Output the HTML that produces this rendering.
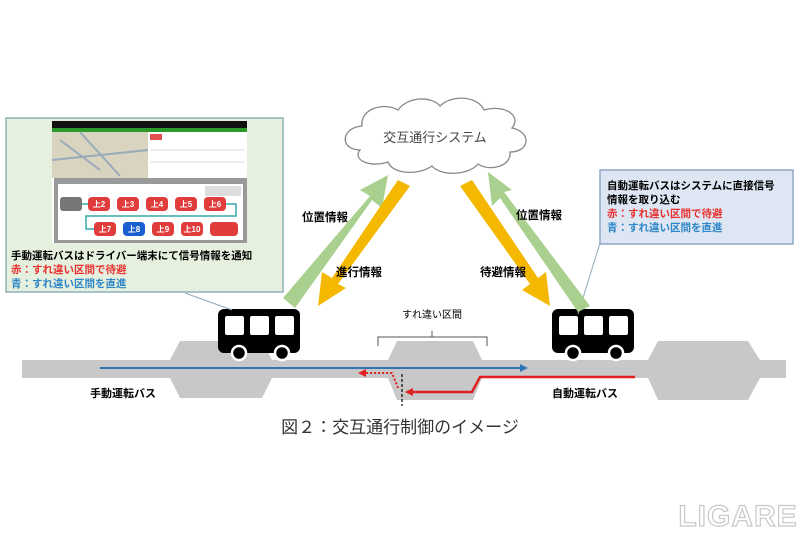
<!DOCTYPE html>
<html><head><meta charset="utf-8"><style>
html,body{margin:0;padding:0;background:#fff;}
svg{display:block;font-family:"Liberation Sans","Noto Sans CJK JP",sans-serif;}
</style></head><body>
<svg width="800" height="533" viewBox="0 0 800 533">
<defs>
<marker id="bh" markerWidth="8" markerHeight="8" refX="6" refY="4" orient="auto" markerUnits="userSpaceOnUse"><path d="M0,0 L8,4 L0,8 Z" fill="#2e75b6"/></marker>
<marker id="rh" markerWidth="8" markerHeight="8" refX="6" refY="4" orient="auto" markerUnits="userSpaceOnUse"><path d="M0,0 L8,4 L0,8 Z" fill="#e02020"/></marker>
</defs>
<!-- road -->
<rect x="22" y="360" width="764" height="18" fill="#c8c8c8"/>
<polygon points="180,341 262,341 272,360 272,378 262,398 180,398 170,378 170,360" fill="#c8c8c8"/>
<polygon points="397,341 473,341 482,360 482,378 473,400 397,400 388,378 388,360" fill="#c8c8c8"/>
<polygon points="658,341 748,341 760,360 760,378 748,400 658,400 648,378 648,360" fill="#c8c8c8"/>
<!-- blue line -->
<line x1="100" y1="368" x2="526" y2="368" stroke="#2e75b6" stroke-width="2" marker-end="url(#bh)"/>
<!-- red -->
<polyline points="635,377 480,377 472,392 407,392" fill="none" stroke="#e02020" stroke-width="2.5" marker-end="url(#rh)"/>
<polyline points="398,388 392,373 360,373" fill="none" stroke="#e02020" stroke-width="2" stroke-dasharray="2,2" marker-end="url(#rh)"/>
<line x1="402" y1="374" x2="402" y2="406" stroke="#000" stroke-width="1.2" stroke-dasharray="3,2"/>
<!-- labels -->
<text x="90" y="397" font-size="11" font-weight="bold" fill="#000">手動運転バス</text>
<text x="552" y="397" font-size="11" font-weight="bold" fill="#000">自動運転バス</text>
<text x="432" y="318" font-size="10" text-anchor="middle" fill="#000">すれ違い区間</text>
<path d="M378,346 L378,337 L432,337 L432,331 M432,337 L487,337 L487,346" fill="none" stroke="#555" stroke-width="1"/>
<!-- buses -->
<g>
<rect x="218" y="309" width="82" height="44" rx="6" fill="#000"/>
<rect x="225" y="316" width="19" height="19" rx="2" fill="#fff"/>
<rect x="250" y="316" width="19" height="19" rx="2" fill="#fff"/>
<rect x="275" y="316" width="19" height="19" rx="2" fill="#fff"/>
<circle cx="239" cy="353" r="7" fill="#000" stroke="#fff" stroke-width="2.5"/>
<circle cx="282" cy="353" r="7" fill="#000" stroke="#fff" stroke-width="2.5"/>
</g>
<g>
<rect x="552" y="309" width="82" height="44" rx="6" fill="#000"/>
<rect x="559" y="316" width="19" height="19" rx="2" fill="#fff"/>
<rect x="584" y="316" width="19" height="19" rx="2" fill="#fff"/>
<rect x="609" y="316" width="19" height="19" rx="2" fill="#fff"/>
<circle cx="573" cy="353" r="7" fill="#000" stroke="#fff" stroke-width="2.5"/>
<circle cx="616" cy="353" r="7" fill="#000" stroke="#fff" stroke-width="2.5"/>
</g>
<!-- connectors -->
<line x1="185" y1="293" x2="232" y2="310" stroke="#8faab8" stroke-width="1"/>
<line x1="600" y1="243" x2="578" y2="314" stroke="#8faab8" stroke-width="1"/>
<!-- cloud -->
<path d="M360,150 C340,150 340,128 362,126 C360,108 385,102 398,110 C408,96 432,96 440,106 C452,94 478,96 484,110 C505,104 522,116 512,128 C532,132 530,152 510,152 C512,166 490,172 478,164 C468,176 440,176 432,166 C418,176 392,174 388,162 C370,168 352,160 360,150 Z" fill="#fff" stroke="#888" stroke-width="1.3"/>
<text x="435" y="142" font-size="13" text-anchor="middle" fill="#444">交互通行システム</text>
<!-- arrows -->
<g fill="#a9d08e">
<polygon points="283,298 295,308 372,200 382,208 388,175 360,190 370,196"/>
<polygon points="590,306 578,312 500,198 492,206 488,172 512,190 504,192"/>
</g>
<g fill="#f5b800">
<polygon points="410,186 398,180 332,278 322,272 318,306 346,288 338,284"/>
<polygon points="460,186 472,180 538,278 546,272 550,306 522,290 530,284"/>
</g>
<g font-size="11.5" font-weight="bold" fill="#000">
<text x="302" y="221">位置情報</text>
<text x="336" y="276">進行情報</text>
<text x="480" y="276">待避情報</text>
<text x="516" y="219">位置情報</text>
</g>
<!-- left box -->
<rect x="6" y="118" width="277" height="174" fill="#e6f0de" stroke="#8fb0b8" stroke-width="1.5"/>
<rect x="52" y="121" width="195" height="122" fill="#fff"/>
<rect x="52" y="121" width="195" height="7" fill="#111"/>
<rect x="52" y="128" width="195" height="4" fill="#2a9a2a"/>
<rect x="52" y="132" width="96" height="46" fill="#d9d4c0"/>
<path d="M60,140 L100,170 M80,132 L120,176 M52,160 L148,150" stroke="#9ab" stroke-width="2"/>
<rect x="150" y="134" width="12" height="6" fill="#e05050"/>
<line x1="150" y1="150" x2="245" y2="150" stroke="#ddd"/>
<line x1="150" y1="162" x2="245" y2="162" stroke="#ddd"/>
<rect x="54" y="178" width="193" height="65" fill="#999"/>
<rect x="58" y="184" width="185" height="56" fill="#fff"/>
<rect x="205" y="186" width="36" height="10" fill="#ddd"/>
<g fill="#e03c3c">
<rect x="88" y="197" width="22" height="14" rx="4"/><rect x="117" y="197" width="22" height="14" rx="4"/>
<rect x="146" y="197" width="22" height="14" rx="4"/><rect x="175" y="197" width="22" height="14" rx="4"/>
<rect x="204" y="197" width="22" height="14" rx="4"/>
<rect x="94" y="222" width="22" height="14" rx="4"/><rect x="152" y="222" width="22" height="14" rx="4"/>
<rect x="181" y="222" width="22" height="14" rx="4"/><rect x="210" y="222" width="28" height="14" rx="4"/>
</g>
<rect x="60" y="197" width="22" height="14" rx="3" fill="#777"/>
<rect x="123" y="222" width="22" height="14" rx="4" fill="#1a5fd0"/>
<path d="M82,204 L88,204 M226,204 L236,204 L236,216 L86,216 L86,229 L94,229" fill="none" stroke="#3aa" stroke-width="1.5"/>
<g font-size="8" fill="#fff" font-weight="bold" text-anchor="middle">
<text x="99" y="207">上2</text><text x="128" y="207">上3</text><text x="157" y="207">上4</text><text x="186" y="207">上5</text><text x="215" y="207">上6</text>
<text x="105" y="232">上7</text><text x="134" y="232">上8</text><text x="163" y="232">上9</text><text x="192" y="232">上10</text>
</g>
<g font-size="10.5" font-weight="bold">
<text x="11" y="259" fill="#000">手動運転バスはドライバー端末にて信号情報を通知</text>
<text x="11" y="273" fill="#e83030">赤：すれ違い区間で待避</text>
<text x="11" y="287" fill="#2e86c8">青：すれ違い区間を直進</text>
</g>
<!-- right box -->
<rect x="600" y="170" width="193" height="74" fill="#dde6f2" stroke="#8fa8c8" stroke-width="1.5"/>
<g font-size="10.5" font-weight="bold">
<text x="607" y="189" fill="#000">自動運転バスはシステムに直接信号</text>
<text x="607" y="203" fill="#000">情報を取り込む</text>
<text x="607" y="217" fill="#e83030">赤：すれ違い区間で待避</text>
<text x="607" y="231" fill="#2e86c8">青：すれ違い区間を直進</text>
</g>
<!-- caption -->
<text x="400" y="433" font-size="17" text-anchor="middle" fill="#333">図２：交互通行制御のイメージ</text>
<text x="738" y="526" font-size="30" text-anchor="middle" fill="#fff" stroke="#c8c8c8" stroke-width="1.2" font-weight="bold" letter-spacing="1">LIGARE</text>
</svg>
</body></html>
